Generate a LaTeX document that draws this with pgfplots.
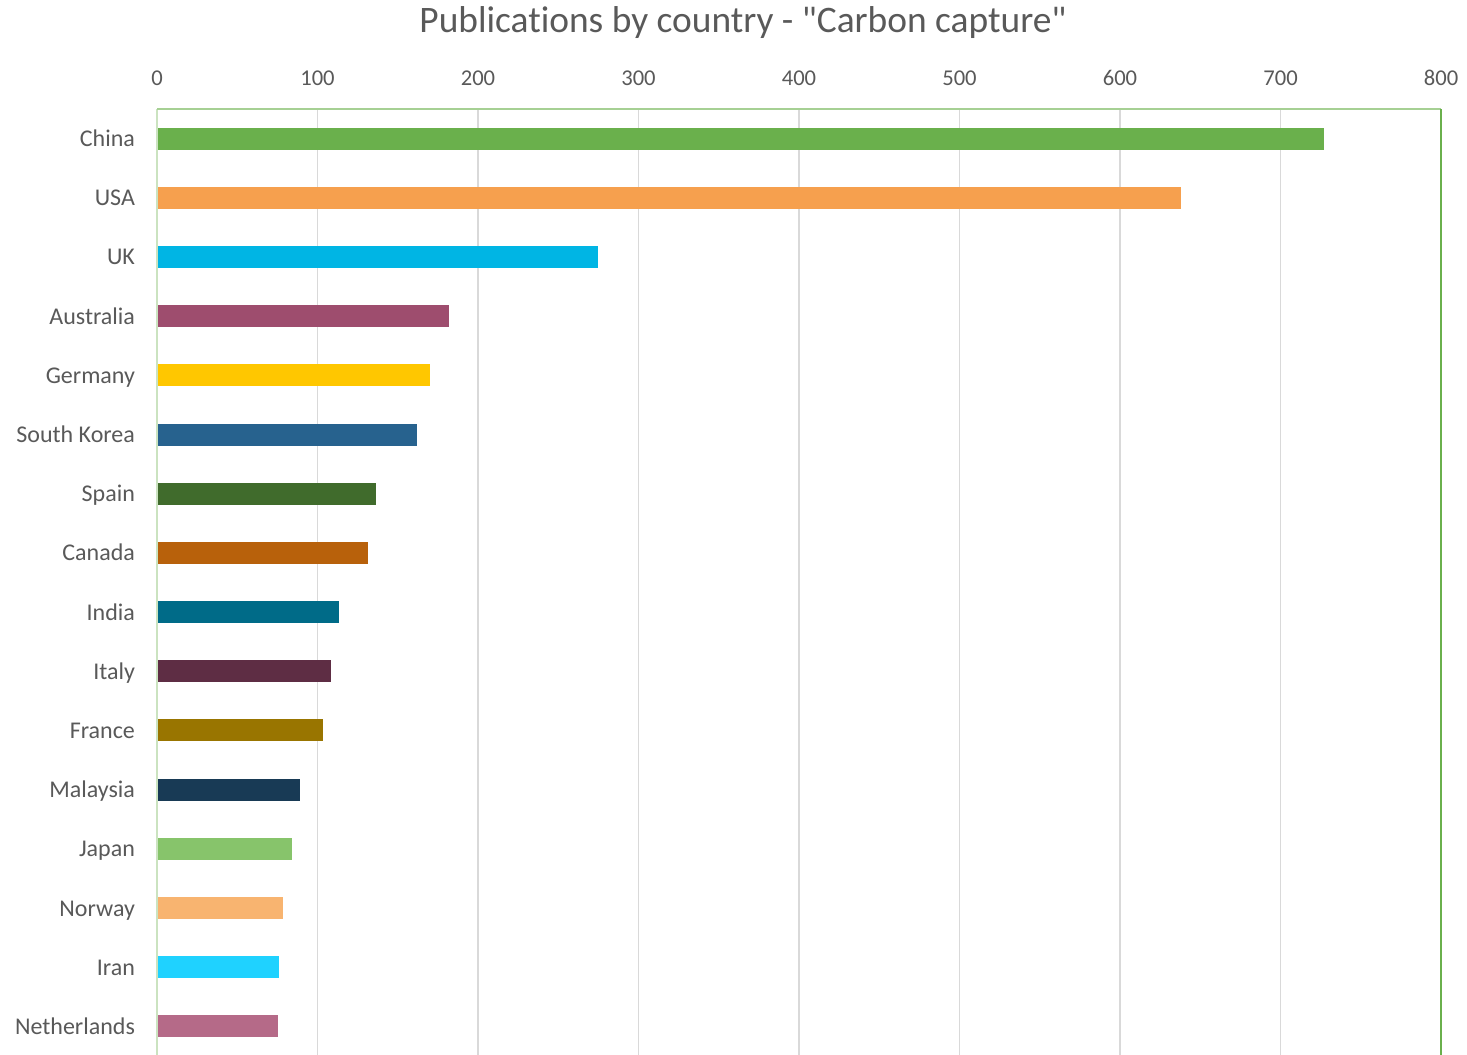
\documentclass[border=0pt]{standalone}
\usepackage{pgfplots}
\pgfplotsset{compat=1.18}
\usepackage{fontspec}
\setmainfont{Carlito}[Ligatures={NoCommon}]
\newfontfamily\titlefont{Carlito}[Ligatures={NoCommon}]
\usetikzlibrary{calc}
\definecolor{txt}{HTML}{595959}
\definecolor{grd}{HTML}{D9D9D9}
\definecolor{cChina}{HTML}{6AB04C}
\definecolor{cUSA}{HTML}{F6A04E}
\definecolor{cUK}{HTML}{00B5E4}
\definecolor{cAus}{HTML}{9E4D6E}
\definecolor{cGer}{HTML}{FFC700}
\definecolor{cKor}{HTML}{27628E}
\definecolor{cSpa}{HTML}{406B2C}
\definecolor{cCan}{HTML}{B8610B}
\definecolor{cInd}{HTML}{006B88}
\definecolor{cIta}{HTML}{5E2D44}
\definecolor{cFra}{HTML}{997500}
\definecolor{cMal}{HTML}{183A55}
\definecolor{cJap}{HTML}{87C46B}
\definecolor{cNor}{HTML}{F8B470}
\definecolor{cIra}{HTML}{1FD2FF}
\definecolor{cNet}{HTML}{B56A88}
\begin{document}
\begin{tikzpicture}
\begin{axis}[
  name=ax,
  scale only axis,
  width=642pt, height=473.5pt,
  xmin=0, xmax=800, ymin=-0.5, ymax=15.5,
  xtick={0,100,...,800},
  xticklabel pos=top,
  ytick={0,...,15},
  yticklabels={Netherlands,Iran,Norway,Japan,Malaysia,France,Italy,India,Canada,Spain,South Korea,Germany,Australia,UK,USA,China},
  major tick length=0pt,
  xmajorgrids,
  grid style={grd, line width=0.75pt},
  axis line style={draw=none},
  xticklabel style={font=\fontsize{11.3}{13}\selectfont, text=txt, yshift=8pt},
  yticklabel style={font=\fontsize{12}{14}\selectfont, text=txt, anchor=base east, xshift=-7.5pt, yshift=-4pt},
  /pgf/number format/assume math mode=true,
  xbar, bar width=11pt, bar shift=0pt,
  every axis plot/.append style={draw=none},
  clip=false,
]
\addplot[fill=cChina] coordinates {(727,15)};
\addplot[fill=cUSA] coordinates {(638,14)};
\addplot[fill=cUK] coordinates {(275,13)};
\addplot[fill=cAus] coordinates {(182,12)};
\addplot[fill=cGer] coordinates {(170,11)};
\addplot[fill=cKor] coordinates {(162,10)};
\addplot[fill=cSpa] coordinates {(136.5,9)};
\addplot[fill=cCan] coordinates {(131.5,8)};
\addplot[fill=cInd] coordinates {(113.5,7)};
\addplot[fill=cIta] coordinates {(108.5,6)};
\addplot[fill=cFra] coordinates {(103.5,5)};
\addplot[fill=cMal] coordinates {(89,4)};
\addplot[fill=cJap] coordinates {(84,3)};
\addplot[fill=cNor] coordinates {(78.5,2)};
\addplot[fill=cIra] coordinates {(76,1)};
\addplot[fill=cNet] coordinates {(75.5,0)};
\draw[color=cChina!35, line width=1pt] (rel axis cs:0,0) -- (rel axis cs:0,1);
\draw[color=cChina!60, line width=0.75pt] (rel axis cs:0,1) -- (rel axis cs:1,1);
\draw[color=cChina, line width=1pt] (rel axis cs:1,1) -- (rel axis cs:1,0);
\end{axis}
\node[text=txt, font=\titlefont\fontsize{18.7}{22}\selectfont, anchor=center] at ($(ax.north west)+(-78.5pt+371.5pt,43pt)$) {Publications by country - "Carbon capture"};
\pgfresetboundingbox
\path[use as bounding box] ($(ax.south west)+(-78.5pt,1pt)$) rectangle ($(ax.north east)+(13pt,54.5pt)$);
\end{tikzpicture}
\end{document}
